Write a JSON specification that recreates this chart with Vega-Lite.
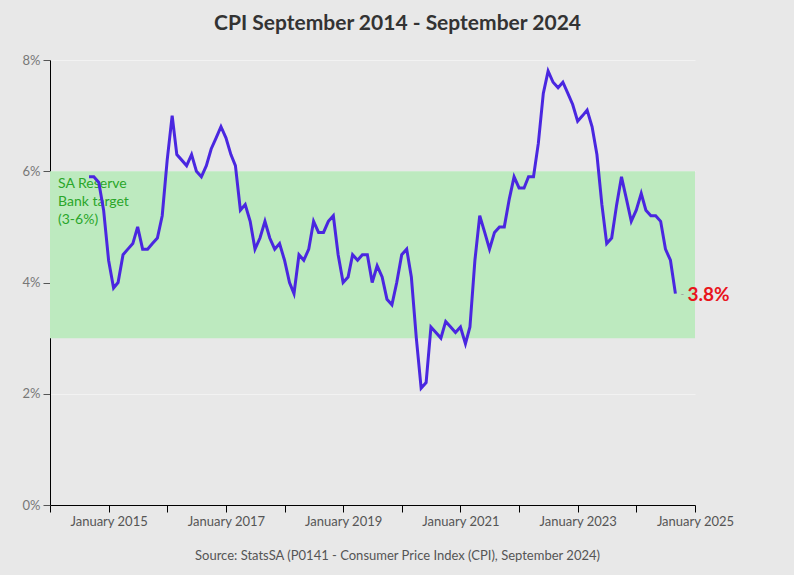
{
  "$schema": "https://vega.github.io/schema/vega-lite/v6.json",
  "autosize": {"type": "none"},
  "width": 645,
  "height": 445,
  "padding": {"left": 50, "top": 60, "right": 99, "bottom": 70},
  "background": "#e8e8e8",
  "config": {
    "view": {"stroke": null, "fill": "#e8e8e8"},
    "font": "Lato",
    "axis": {"labelFont": "Lato", "titleFont": "Lato"}
  },
  "title": {
    "text": "CPI September 2014 - September 2024",
    "fontSize": 21,
    "fontWeight": "bold",
    "color": "#333333",
    "font": "Lato",
    "offset": 20,
    "dx": 25
  },
  "datasets": {
    "cpi": [
      {"date": "2014-09-01", "cpi": 5.9}, {"date": "2014-10-01", "cpi": 5.9}, {"date": "2014-11-01", "cpi": 5.8}, {"date": "2014-12-01", "cpi": 5.3},
      {"date": "2015-01-01", "cpi": 4.4}, {"date": "2015-02-01", "cpi": 3.9}, {"date": "2015-03-01", "cpi": 4.0}, {"date": "2015-04-01", "cpi": 4.5},
      {"date": "2015-05-01", "cpi": 4.6}, {"date": "2015-06-01", "cpi": 4.7}, {"date": "2015-07-01", "cpi": 5.0}, {"date": "2015-08-01", "cpi": 4.6},
      {"date": "2015-09-01", "cpi": 4.6}, {"date": "2015-10-01", "cpi": 4.7}, {"date": "2015-11-01", "cpi": 4.8}, {"date": "2015-12-01", "cpi": 5.2},
      {"date": "2016-01-01", "cpi": 6.2}, {"date": "2016-02-01", "cpi": 7.0}, {"date": "2016-03-01", "cpi": 6.3}, {"date": "2016-04-01", "cpi": 6.2},
      {"date": "2016-05-01", "cpi": 6.1}, {"date": "2016-06-01", "cpi": 6.3}, {"date": "2016-07-01", "cpi": 6.0}, {"date": "2016-08-01", "cpi": 5.9},
      {"date": "2016-09-01", "cpi": 6.1}, {"date": "2016-10-01", "cpi": 6.4}, {"date": "2016-11-01", "cpi": 6.6}, {"date": "2016-12-01", "cpi": 6.8},
      {"date": "2017-01-01", "cpi": 6.6}, {"date": "2017-02-01", "cpi": 6.3}, {"date": "2017-03-01", "cpi": 6.1}, {"date": "2017-04-01", "cpi": 5.3},
      {"date": "2017-05-01", "cpi": 5.4}, {"date": "2017-06-01", "cpi": 5.1}, {"date": "2017-07-01", "cpi": 4.6}, {"date": "2017-08-01", "cpi": 4.8},
      {"date": "2017-09-01", "cpi": 5.1}, {"date": "2017-10-01", "cpi": 4.8}, {"date": "2017-11-01", "cpi": 4.6}, {"date": "2017-12-01", "cpi": 4.7},
      {"date": "2018-01-01", "cpi": 4.4}, {"date": "2018-02-01", "cpi": 4.0}, {"date": "2018-03-01", "cpi": 3.8}, {"date": "2018-04-01", "cpi": 4.5},
      {"date": "2018-05-01", "cpi": 4.4}, {"date": "2018-06-01", "cpi": 4.6}, {"date": "2018-07-01", "cpi": 5.1}, {"date": "2018-08-01", "cpi": 4.9},
      {"date": "2018-09-01", "cpi": 4.9}, {"date": "2018-10-01", "cpi": 5.1}, {"date": "2018-11-01", "cpi": 5.2}, {"date": "2018-12-01", "cpi": 4.5},
      {"date": "2019-01-01", "cpi": 4.0}, {"date": "2019-02-01", "cpi": 4.1}, {"date": "2019-03-01", "cpi": 4.5}, {"date": "2019-04-01", "cpi": 4.4},
      {"date": "2019-05-01", "cpi": 4.5}, {"date": "2019-06-01", "cpi": 4.5}, {"date": "2019-07-01", "cpi": 4.0}, {"date": "2019-08-01", "cpi": 4.3},
      {"date": "2019-09-01", "cpi": 4.1}, {"date": "2019-10-01", "cpi": 3.7}, {"date": "2019-11-01", "cpi": 3.6}, {"date": "2019-12-01", "cpi": 4.0},
      {"date": "2020-01-01", "cpi": 4.5}, {"date": "2020-02-01", "cpi": 4.6}, {"date": "2020-03-01", "cpi": 4.1}, {"date": "2020-04-01", "cpi": 3.0},
      {"date": "2020-05-01", "cpi": 2.1}, {"date": "2020-06-01", "cpi": 2.2}, {"date": "2020-07-01", "cpi": 3.2}, {"date": "2020-08-01", "cpi": 3.1},
      {"date": "2020-09-01", "cpi": 3.0}, {"date": "2020-10-01", "cpi": 3.3}, {"date": "2020-11-01", "cpi": 3.2}, {"date": "2020-12-01", "cpi": 3.1},
      {"date": "2021-01-01", "cpi": 3.2}, {"date": "2021-02-01", "cpi": 2.9}, {"date": "2021-03-01", "cpi": 3.2}, {"date": "2021-04-01", "cpi": 4.4},
      {"date": "2021-05-01", "cpi": 5.2}, {"date": "2021-06-01", "cpi": 4.9}, {"date": "2021-07-01", "cpi": 4.6}, {"date": "2021-08-01", "cpi": 4.9},
      {"date": "2021-09-01", "cpi": 5.0}, {"date": "2021-10-01", "cpi": 5.0}, {"date": "2021-11-01", "cpi": 5.5}, {"date": "2021-12-01", "cpi": 5.9},
      {"date": "2022-01-01", "cpi": 5.7}, {"date": "2022-02-01", "cpi": 5.7}, {"date": "2022-03-01", "cpi": 5.9}, {"date": "2022-04-01", "cpi": 5.9},
      {"date": "2022-05-01", "cpi": 6.5}, {"date": "2022-06-01", "cpi": 7.4}, {"date": "2022-07-01", "cpi": 7.8}, {"date": "2022-08-01", "cpi": 7.6},
      {"date": "2022-09-01", "cpi": 7.5}, {"date": "2022-10-01", "cpi": 7.6}, {"date": "2022-11-01", "cpi": 7.4}, {"date": "2022-12-01", "cpi": 7.2},
      {"date": "2023-01-01", "cpi": 6.9}, {"date": "2023-02-01", "cpi": 7.0}, {"date": "2023-03-01", "cpi": 7.1}, {"date": "2023-04-01", "cpi": 6.8},
      {"date": "2023-05-01", "cpi": 6.3}, {"date": "2023-06-01", "cpi": 5.4}, {"date": "2023-07-01", "cpi": 4.7}, {"date": "2023-08-01", "cpi": 4.8},
      {"date": "2023-09-01", "cpi": 5.4}, {"date": "2023-10-01", "cpi": 5.9}, {"date": "2023-11-01", "cpi": 5.5}, {"date": "2023-12-01", "cpi": 5.1},
      {"date": "2024-01-01", "cpi": 5.3}, {"date": "2024-02-01", "cpi": 5.6}, {"date": "2024-03-01", "cpi": 5.3}, {"date": "2024-04-01", "cpi": 5.2},
      {"date": "2024-05-01", "cpi": 5.2}, {"date": "2024-06-01", "cpi": 5.1}, {"date": "2024-07-01", "cpi": 4.6}, {"date": "2024-08-01", "cpi": 4.4},
      {"date": "2024-09-01", "cpi": 3.8}
    ]
  },
  "layer": [
    {
      "data": {"values": [{"start": "2014-01-01", "end": "2025-01-01", "lo": 3, "hi": 6}]},
      "mark": {"type": "rect", "color": "#bdeabf"},
      "encoding": {
        "x": {"field": "start", "type": "temporal", "scale": {"domain": ["2014-01-01", "2025-01-01"]},
          "axis": {
            "tickCount": {"interval": "year", "step": 1},
            "labelExpr": "year(datum.value) % 2 == 1 ? timeFormat(datum.value, '%B %Y') : ''",
            "labelColor": "#555555", "labelFontSize": 13, "labelPadding": 3,
            "domainColor": "#000000", "tickColor": "#000000", "tickSize": 7, "grid": false,
            "labelOverlap": false, "labelFlush": false,
            "title": "Source: StatsSA (P0141 - Consumer Price Index (CPI), September 2024)",
            "titleFontWeight": "normal", "titleFontSize": 13, "titleColor": "#555555",
            "titleX": 347, "titleY": 50, "titleBaseline": "middle", "titleAnchor": "start", "titleAlign": "center"
          }},
        "x2": {"field": "end"},
        "y": {"field": "lo", "type": "quantitative", "scale": {"domain": [0, 8]},
          "axis": {
            "values": [0, 2, 4, 6, 8],
            "labelExpr": "datum.value + '%'",
            "labelColor": "#777777", "labelFontSize": 13, "labelPadding": 3,
            "domainColor": "#000000", "tickColor": "#555555", "tickSize": 7,
            "grid": true, "gridColor": "#f2f2f2", "gridWidth": 1,
            "title": null
          }},
        "y2": {"field": "hi"}
      }
    },
    {
      "data": {"values": [{"date": "2014-01-01", "y": 6, "label": ["SA Reserve", "Bank target", "(3-6%)"]}]},
      "mark": {"type": "text", "align": "left", "baseline": "top", "dx": 8, "dy": 6, "fontSize": 14, "color": "#2aa62a", "lineHeight": 18},
      "encoding": {
        "x": {"field": "date", "type": "temporal"},
        "y": {"field": "y", "type": "quantitative"},
        "text": {"field": "label"}
      }
    },
    {
      "data": {"name": "cpi"},
      "mark": {"type": "line", "color": "#4a27e0", "strokeWidth": 3},
      "encoding": {
        "x": {"field": "date", "type": "temporal"},
        "y": {"field": "cpi", "type": "quantitative"}
      }
    },
    {
      "data": {"values": [{"date": "2024-09-01", "cpi": 3.8, "label": "3.8%"}]},
      "mark": {"type": "text", "align": "left", "baseline": "middle", "dx": 12, "dy": 1, "fontSize": 19, "fontWeight": "bold", "color": "#e8141c"},
      "encoding": {
        "x": {"field": "date", "type": "temporal"},
        "y": {"field": "cpi", "type": "quantitative"},
        "text": {"field": "label"}
      }
    },
    {
      "data": {"values": [{"date": "2024-09-01", "cpi": 3.8, "label": "-"}]},
      "mark": {"type": "text", "align": "left", "baseline": "middle", "dx": 5, "fontSize": 10, "color": "#999999"},
      "encoding": {
        "x": {"field": "date", "type": "temporal"},
        "y": {"field": "cpi", "type": "quantitative"},
        "text": {"field": "label"}
      }
    }
  ]
}
